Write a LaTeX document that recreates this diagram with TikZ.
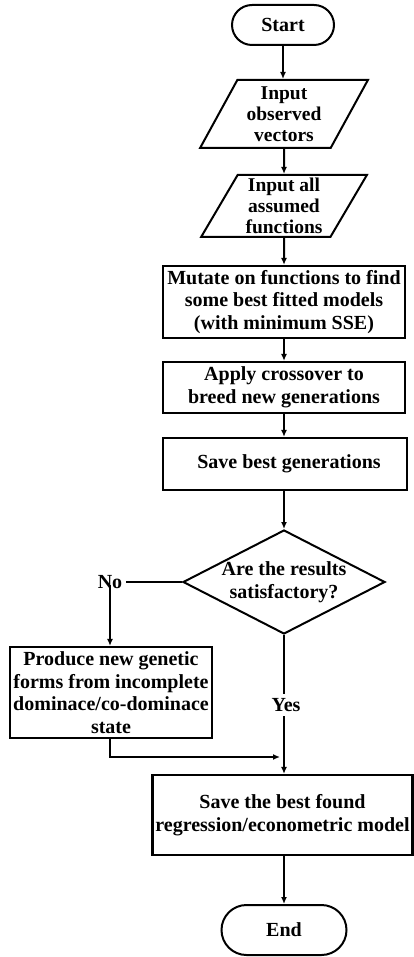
\documentclass[tikz,border=0pt]{standalone}
\usepackage{fontspec}
\setmainfont{Liberation Serif}
\usetikzlibrary{shapes.geometric,arrows.meta}
\begin{document}
\begin{tikzpicture}[x=1pt,y=-1pt,
  every node/.style={font=\fontsize{20}{22.5}\selectfont\bfseries, align=center, inner sep=0pt},
  box/.style={draw, line width=2.2pt, rectangle},
  term/.style={draw, line width=2pt, rectangle},
  para/.style={draw, line width=2pt, trapezium, trapezium stretches=true,
     trapezium left angle=61.5, trapezium right angle=118.5,
     font=\fontsize{19.5}{21}\selectfont\bfseries},
  arr/.style={line width=2pt, -{Latex[length=7pt,width=6pt]}},
  ln/.style={line width=2pt}]
\path[use as bounding box] (0,0) rectangle (414,957);
\node[term, rounded corners=20pt, minimum width=102pt, minimum height=40pt] (start) at (283,25) {Start};
\node[para, minimum width=168pt, minimum height=68pt] (in1) at (284,114) {Input\\observed\\vectors};
\node[para, minimum width=166pt, minimum height=62pt] (in2) at (284,206) {Input all\\assumed\\functions};
\node[box, minimum width=242pt, minimum height=72pt] (b3) at (284,302) {Mutate on functions to find\\some best fitted models\\(with minimum SSE)};
\node[box, minimum width=242pt, minimum height=51pt] (b4) at (284,387.5) {Apply crossover to\\breed new generations};
\node[box, minimum width=244pt, minimum height=52pt] (b5) at (285,464) {\hspace*{8pt}Save best generations};
\node[draw, line width=2pt, diamond, minimum width=202pt, minimum height=104pt] (d) at (284,582) {};
\node (dt) at (284,582) {Are the results\\satisfactory?};
\node (no) at (110,582) {No};
\node[box, minimum width=202pt, minimum height=91pt] (b6) at (111,692.5) {Produce new genetic\\forms from incomplete\\dominace/co-dominace\\state};
\node[box, minimum width=260pt, minimum height=80pt] (b7) at (282.5,815) {Save the best found\\regression/econometric model};
\node[term, rounded corners=25pt, minimum width=125pt, minimum height=50pt] (end) at (284,930) {End};
\coordinate (m) at (280,757);

\draw[arr] (start.south) -- (start.south |- in1.north);
\draw[arr] (in1.south) -- (in2.north);
\draw[arr] (in2.south) -- (b3.north);
\draw[arr] (b3.south) -- (b4.north);
\draw[arr] (b4.south) -- (b4.south |- b5.north);
\draw[arr] (b5.south -| d.north) -- (d.north);
\draw[ln] (d.west) -- ([xshift=4pt]no.east);
\draw[arr] ([yshift=4pt]no.south) -- (no.south |- b6.north);
\draw[arr] (b6.south -| no.south) |- (m);
\draw[arr] (d.south) -- (d.south |- b7.north);
\node[fill=white, inner ysep=4pt, inner xsep=1pt] (yes) at (286,705) {Yes};
\draw[arr] (b7.south -| end.north) -- (end.north);
\end{tikzpicture}
\end{document}
